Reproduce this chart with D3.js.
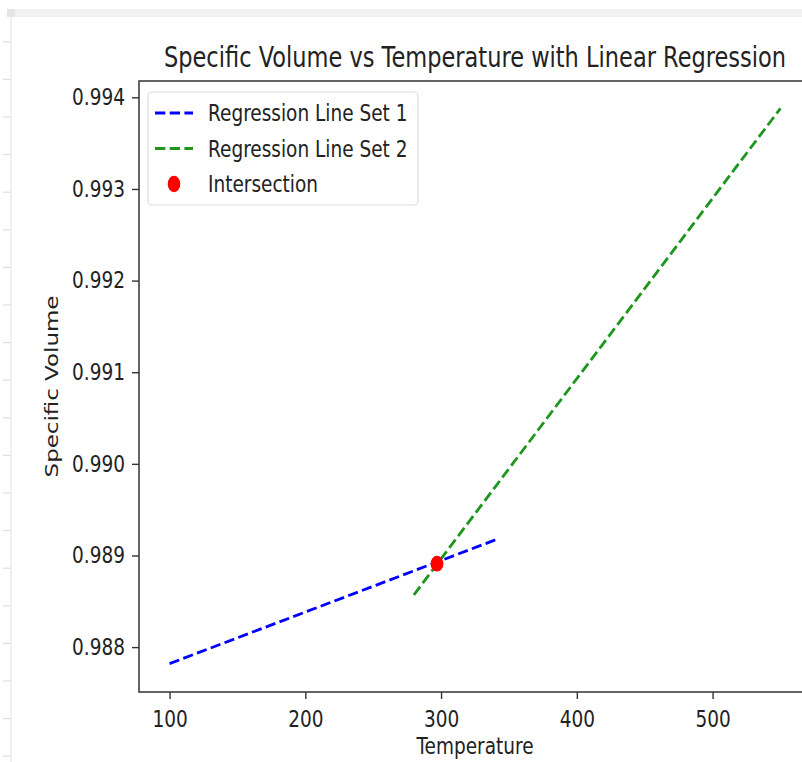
<!DOCTYPE html>
<html lang="en">
<head>
<meta charset="utf-8">
<title>Specific Volume vs Temperature</title>
<script src="https://d3js.org/d3.v7.min.js"></script>
<style>
  body { margin: 0; background: #fff; }
  text { font-family: "DejaVu Sans", sans-serif; fill: #222; }
</style>
</head>
<body>
<div id="chart"></div>
<script>
// end points of the two regression lines
const set1Temp = [100, 340];
const set1Vol = [0.98782, 0.98917];
const set2Temp = [280, 550];
const set2Vol = [0.98857, 0.99388];
const crossTemp = [297];
const crossVol = [0.98891];
const tempTicks = [100, 200, 300, 400, 500];
const volTicks = [0.988, 0.989, 0.990, 0.991, 0.992, 0.993, 0.994];
const legendLabels = ["Regression Line Set 1", "Regression Line Set 2", "Intersection"];

const width = 802, height = 762;
const sy = 1.24; // the screenshot is stretched vertically
const plotL = 139, plotR = 811, plotT = 81, plotB = 692;
const fs = 18.5;
const green = "#1c961c";

const svg = d3.select("#chart").append("svg")
  .attr("width", width).attr("height", height);

// notebook chrome around the figure
svg.append("rect").attr("x", 7).attr("y", 9).attr("width", 795).attr("height", 8).attr("fill", "#f1f1f1");
svg.append("rect").attr("x", 7).attr("y", 9).attr("width", 8).attr("height", 8).attr("fill", "#e4e4e4");
svg.append("line").attr("x1", 11).attr("x2", 11).attr("y1", 17).attr("y2", height)
  .attr("stroke", "#e6e6e6").attr("stroke-width", 1.2);
svg.selectAll("line.gut").data(d3.range(41.8, height, 37.6)).join("line")
  .attr("class", "gut").attr("x1", 3).attr("x2", 11)
  .attr("y1", d => d).attr("y2", d => d)
  .attr("stroke", "#e0e0e0").attr("stroke-width", 1.2);

var x = d3.scaleLinear().domain([77.5, 572.5]).range([plotL, plotR]);
var y = d3.scaleLinear().domain([0.98751, 0.994178]).range([plotB, plotT]);

// axes
var gx = svg.append("g").attr("transform", "translate(0," + plotB + ")")
  .call(d3.axisBottom(x).tickValues(tempTicks).tickSize(7).tickSizeOuter(0));
gx.select(".domain").remove();
gx.selectAll("line").attr("stroke", "#333").attr("stroke-width", 1.4);
gx.selectAll("text").attr("y", 35 / sy).attr("dy", 0)
  .attr("transform", "scale(1," + sy + ")")
  .style("font-size", fs + "px").attr("fill", "#222");

var gy = svg.append("g").attr("transform", "translate(" + plotL + ",0)")
  .call(d3.axisLeft(y).tickValues(volTicks).tickFormat(d3.format(".3f"))
    .tickSize(7).tickPadding(7).tickSizeOuter(0));
gy.select(".domain").remove();
gy.selectAll("line").attr("stroke", "#333").attr("stroke-width", 1.4);
gy.selectAll("text").attr("transform", "scale(1," + sy + ")")
  .style("font-size", fs + "px").attr("fill", "#222");

// frame
svg.append("rect").attr("x", plotL).attr("y", plotT)
  .attr("width", plotR - plotL).attr("height", plotB - plotT)
  .attr("fill", "none").attr("stroke", "#333").attr("stroke-width", 1.5);

// lines
var line = d3.line().x(d => x(d[0])).y(d => y(d[1]));
svg.append("path").datum(d3.zip(set1Temp, set1Vol))
  .attr("d", line).attr("fill", "none").attr("stroke", "blue")
  .attr("stroke-width", 2.8).attr("stroke-dasharray", "10.3,4.4");
svg.append("path").datum(d3.zip(set2Temp, set2Vol))
  .attr("d", line).attr("fill", "none").attr("stroke", green)
  .attr("stroke-width", 2.8).attr("stroke-dasharray", "10.3,4.4");
svg.selectAll("ellipse.cross").data(d3.zip(crossTemp, crossVol)).join("ellipse")
  .attr("class", "cross")
  .attr("cx", d => x(d[0])).attr("cy", d => y(d[1]))
  .attr("rx", 6.4).attr("ry", 7.9).attr("fill", "red");

// titles
svg.append("text")
  .attr("transform", "translate(" + (plotL + plotR) / 2 + ",67) scale(1," + sy + ")")
  .attr("text-anchor", "middle").style("font-size", "22.5px")
  .text("Specific Volume vs Temperature with Linear Regression");
svg.append("text")
  .attr("transform", "translate(" + (plotL + plotR) / 2 + ",754) scale(1," + sy + ")")
  .attr("text-anchor", "middle").style("font-size", fs + "px")
  .text("Temperature");
svg.append("text")
  .attr("transform", "translate(58," + (plotT + plotB) / 2 + ") scale(1," + sy + ") rotate(-90)")
  .attr("text-anchor", "middle").style("font-size", fs + "px")
  .text("Specific Volume");

// legend
var lg = svg.append("g");
lg.append("rect").attr("x", 148).attr("y", 92).attr("width", 270).attr("height", 113)
  .attr("rx", 4).attr("fill", "white").attr("fill-opacity", 0.8)
  .attr("stroke", "#dcdcdc").attr("stroke-width", 1.2);
var rows = [113, 148.5, 184];
["blue", green].forEach(function (c, i) {
  lg.append("line").attr("x1", 155).attr("x2", 193).attr("y1", rows[i]).attr("y2", rows[i])
    .attr("stroke", c).attr("stroke-width", 2.8).attr("stroke-dasharray", "10.3,4.4");
});
lg.append("ellipse").attr("cx", 174).attr("cy", rows[2]).attr("rx", 6.3).attr("ry", 8.2).attr("fill", "red");
legendLabels.forEach(function (t, i) {
  lg.append("text")
    .attr("transform", "translate(208," + (rows[i] + 8.3) + ") scale(1," + sy + ")")
    .style("font-size", fs + "px").text(t);
});
</script>
</body>
</html>
